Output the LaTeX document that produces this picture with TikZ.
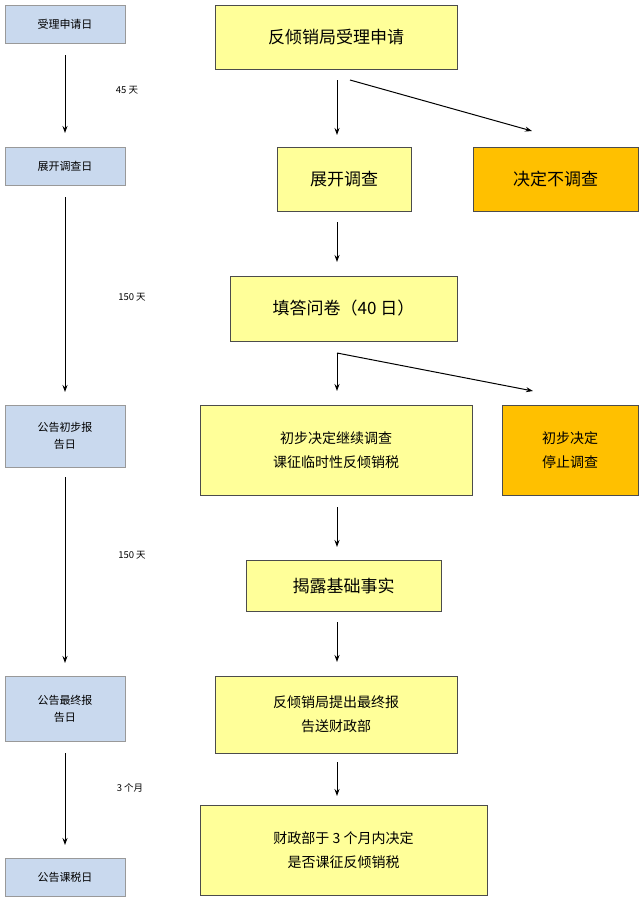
\documentclass[tikz,border=0pt]{standalone}
\usepackage{fontspec}
\setmainfont{Noto Sans CJK SC}
\usetikzlibrary{arrows.meta}
\definecolor{lb}{HTML}{C9D9EE}
\definecolor{yl}{HTML}{FFFF99}
\definecolor{og}{HTML}{FFC000}
\begin{document}
\begin{tikzpicture}[x=1pt,y=-1pt,
 lbox/.style={draw=gray!80,fill=lb,line width=0.8pt,inner sep=0pt,align=center,font=\fontsize{11}{17}\selectfont},
 ybox/.style={draw=black!70,fill=yl,line width=0.8pt,inner sep=0pt,align=center},
 obox/.style={ybox,fill=og},
 big/.style={font=\fontsize{17}{22}\selectfont},
 mid/.style={font=\fontsize{14}{24}\selectfont},
 arr/.style={-{Stealth[length=7pt,width=5pt]},line width=1pt},
 lab/.style={font=\fontsize{9.5}{11}\selectfont}]
\useasboundingbox (0,0) rectangle (640,897);
\newcommand{\bx}[6]{\node[#1,minimum width=#4-#2,minimum height=#5-#3] (#6) at ({(#2+#4)/2},{(#3+#5)/2})}
\bx{lbox}{5}{5}{125}{43}{l1} {受理申请日};
\bx{lbox}{5}{147}{125}{185}{l2} {展开调查日};
\bx{lbox}{5}{405}{125}{467}{l3} {公告初步报\\告日};
\bx{lbox}{5}{676}{125}{741}{l4} {公告最终报\\告日};
\bx{lbox}{5}{858}{125}{896}{l5} {公告课税日};
\coordinate (a1) at (65,55); \coordinate (b1) at (65,133);
\coordinate (a2) at (65,197); \coordinate (b2) at (65,392);
\coordinate (a3) at (65,477); \coordinate (b3) at (65,663);
\coordinate (a4) at (65,753); \coordinate (b4) at (65,845);
\foreach \i in {1,...,4} \draw[arr] (a\i) -- (b\i);
\node[lab] (t1) at (127,90) {45 天};
\node[lab] (t2) at (132,297) {150 天};
\node[lab] (t3) at (132,555) {150 天};
\node[lab] (t4) at (130,788) {3 个月};
\bx{ybox,big}{215}{5}{457}{69}{r1} {反倾销局受理申请};
\bx{ybox,big}{277}{147}{411}{211}{r2} {展开调查};
\bx{obox,big}{473}{147}{638}{211}{r3} {决定不调查};
\bx{ybox,big}{230}{276}{457}{341}{r4} {填答问卷（40 日）};
\bx{ybox,mid}{200}{405}{472}{495}{r5} {初步决定继续调查\\课征临时性反倾销税};
\bx{obox,mid}{502}{405}{638}{495}{r6} {初步决定\\停止调查};
\bx{ybox,big}{246}{560}{441}{611}{r7} {揭露基础事实};
\bx{ybox,mid}{215}{676}{457}{753}{r8} {反倾销局提出最终报\\告送财政部};
\bx{ybox,mid}{200}{805}{487}{895}{r9} {财政部于 3 个月内决定\\是否课征反倾销税};
\coordinate (c1) at (337,80); \coordinate (d1) at (337,135);
\coordinate (e1) at (350,80); \coordinate (f1) at (532,131);
\coordinate (c2) at (337,222); \coordinate (d2) at (337,262);
\coordinate (c3) at (337,353); \coordinate (d3) at (337,391);
\coordinate (f3) at (533,391);
\coordinate (c4) at (337,507); \coordinate (d4) at (337,547);
\coordinate (c5) at (337,622); \coordinate (d5) at (337,662);
\coordinate (c6) at (337,762); \coordinate (d6) at (337,796);
\draw[arr] (c1) -- (d1);
\draw[arr] (e1) -- (f1);
\draw[arr] (c2) -- (d2);
\draw[arr] (c3) -- (d3);
\draw[arr] (c3) -- (f3);
\draw[arr] (c4) -- (d4);
\draw[arr] (c5) -- (d5);
\draw[arr] (c6) -- (d6);
\end{tikzpicture}
\end{document}
